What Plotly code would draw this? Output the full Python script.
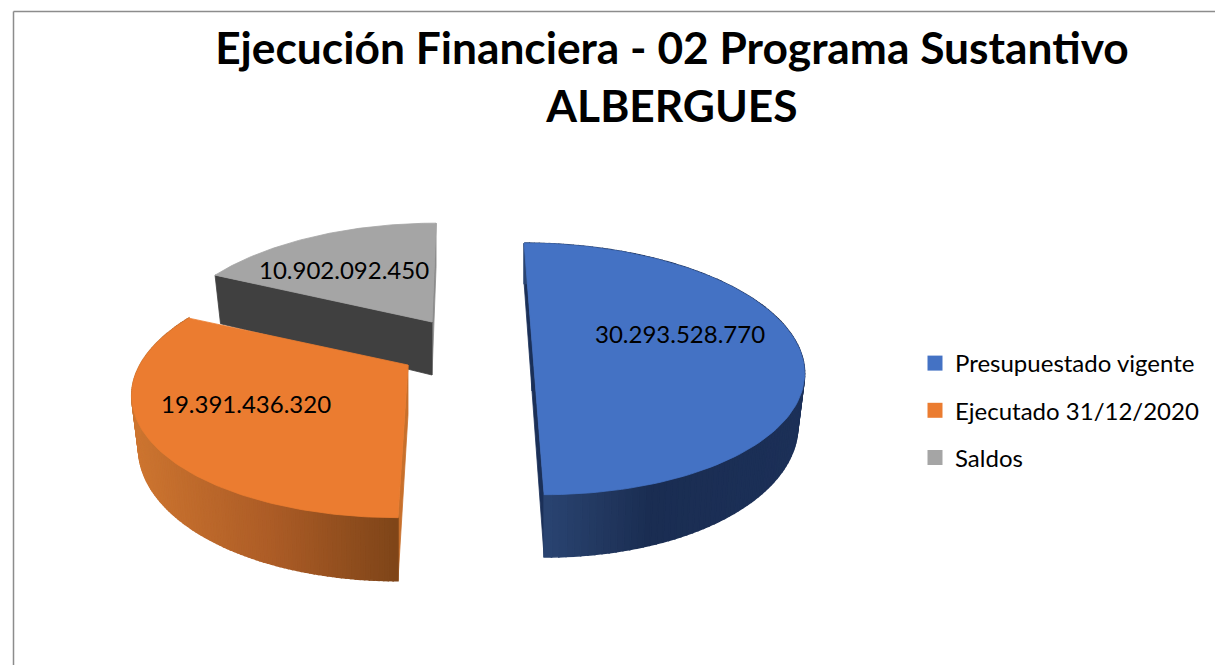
import math
import plotly.graph_objects as go

# ---- chart data ----
categories = ["Presupuestado vigente", "Ejecutado 31/12/2020", "Saldos"]
values = [30293528770, 19391436320, 10902092450]
title_lines = ["Ejecución Financiera - 02 Programa Sustantivo", "ALBERGUES"]

# ---- styles ----
top_colors = ["#4472C4", "#EB7C30", "#A5A5A5"]
FONT = "Lato, Carlito, Calibri, sans-serif"
W, H = 1215, 665

# ---- 3D exploded pie geometry (pixel space axes) ----
RY, K = 120.0, 0.214
radii = [264.0, 268.0, 264.0]
tips = [(532.0, 342.0), (408.0, 365.0), (432.0, 322.0)]
skews = [44.6, -37.0, -23.0]
depths = [49.0, 49.5, 53.0]
DEPTH_SHRINK = 0.975
label_pos = [(680, 333), (246, 403), (344, 269)]


def proj(i, deg, r=1.0, down=False):
    t = math.radians(deg)
    u, v = r * math.sin(t), -r * math.cos(t)
    w = 1.0 / (1.0 - K * v)
    dx = radii[i] * u * w * (DEPTH_SHRINK if down else 1.0)
    x = tips[i][0] + dx + skews[i] * (w - 1.0)
    y = tips[i][1] + RY * v * w + (depths[i] * w if down else 0.0)
    return x, y


def css(c):
    return "rgb(%d,%d,%d)" % tuple(round(k) for k in c)


def lerp_color(stops, x):
    if x <= stops[0][0]:
        return css(stops[0][1])
    for (a, ca), (b, cb) in zip(stops, stops[1:]):
        if x <= b:
            f = (x - a) / (b - a)
            return css(tuple(ca[j] + (cb[j] - ca[j]) * f for j in range(3)))
    return css(stops[-1][1])


side_stops = [
    [(543, (42, 68, 114)), (600, (34, 56, 96)), (650, (26, 45, 82)), (805, (28, 48, 88))],
    [(132, (205, 117, 48)), (270, (172, 92, 38)), (400, (125, 68, 24))],
    [(0, (130, 130, 130)), (1215, (130, 130, 130))],
]
face_colors = {(0, 0): "#1B3058", (0, 180): "#1B3058", (1, 180): "#C8702C",
               (2, 360): "#8C8C8C", (2, 295): "#404040"}

fig = go.Figure()


def poly(pts, color, lw=0.8):
    xs = [p[0] for p in pts] + [pts[0][0]]
    ys = [p[1] for p in pts] + [pts[0][1]]
    fig.add_trace(go.Scatter(x=xs, y=ys, mode="lines", fill="toself", fillcolor=color,
                             line=dict(color=color, width=lw), hoverinfo="skip", showlegend=False))


total = sum(values)
starts = []
acc = 0.0
for v in values:
    starts.append((acc, acc + 360.0 * v / total))
    acc += 360.0 * v / total

for i in [2, 1, 0]:
    a0, a1 = starts[i]
    # cut faces
    visible = {0: [a0, a1], 1: [a0], 2: [a1, a0]}[i]
    for ang in visible:
        key = (i, round(ang / 5) * 5)
        col = face_colors.get(key, "#404040")
        if i == 2 and ang == a0:
            col = face_colors[(2, 295)]
        poly([proj(i, ang), proj(i, ang, 0.0), proj(i, ang, 0.0, True), proj(i, ang, 1.0, True)], col)
    # curved side with gradient
    if i != 2:
        n = 140
        for s in range(n):
            d0 = a0 + (a1 - a0) * s / n
            d1 = a0 + (a1 - a0) * (s + 1) / n
            p0, p1 = proj(i, d0), proj(i, d1)
            poly([p0, p1, proj(i, d1, 1.0, True), proj(i, d0, 1.0, True)],
                 lerp_color(side_stops[i], (p0[0] + p1[0]) / 2), lw=1.6)
    # top face
    n = 120
    pts = [proj(i, a0 + (a1 - a0) * s / n) for s in range(n + 1)] + [proj(i, a0, 0.0)]
    poly(pts, top_colors[i])

# legend entries
for i, name in enumerate(categories):
    fig.add_trace(go.Scatter(x=[None], y=[None], mode="markers", name=name, legendgroup=name,
                             marker=dict(symbol="square", size=15, color=top_colors[i]),
                             hoverinfo="skip"))

# data labels
for i, v in enumerate(values):
    fig.add_annotation(x=label_pos[i][0], y=label_pos[i][1], xref="x", yref="y", showarrow=False,
                       text=f"{v:,}".replace(",", "."),
                       font=dict(family=FONT, size=24, color="#000000"))

fig.update_layout(
    width=W, height=H, margin=dict(l=0, r=0, t=0, b=0),
    paper_bgcolor="white", plot_bgcolor="white",
    xaxis=dict(range=[0, W], visible=False, fixedrange=True),
    yaxis=dict(range=[H, 0], visible=False, fixedrange=True),
    title=dict(text="<br>".join(title_lines), x=672 / W, xanchor="center", y=1 - 64 / H, yanchor="top",
               font=dict(family=FONT, size=44.3, color="#000000", weight="bold")),
    legend=dict(x=915 / W, y=1 - 341 / H, xanchor="left", yanchor="top",
                font=dict(family=FONT, size=24, color="#000000"),
                tracegroupgap=13, bgcolor="rgba(0,0,0,0)", itemclick=False, itemdoubleclick=False),
    shapes=[
        dict(type="line", xref="paper", yref="paper", x0=13.5 / W, x1=13.5 / W, y0=0, y1=1 - 11.5 / H,
             line=dict(color="#8C8C8C", width=1.5)),
        dict(type="line", xref="paper", yref="paper", x0=13.5 / W, x1=1, y0=1 - 11.5 / H, y1=1 - 11.5 / H,
             line=dict(color="#8C8C8C", width=1.5)),
    ],
)

fig.write_html("out.html", config=dict(displayModeBar=False),
               post_script="document.body.style.margin='0';")
